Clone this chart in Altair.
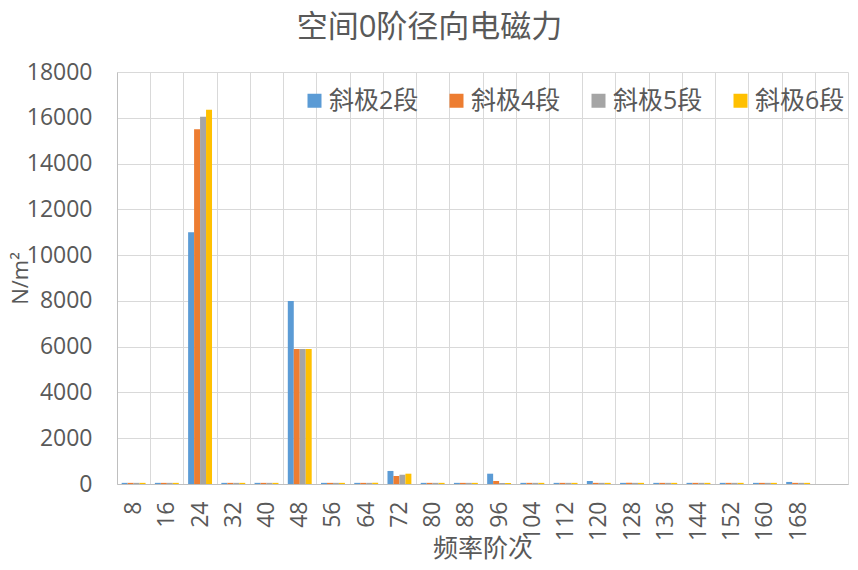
import altair as alt
import pandas as pd

orders = [8, 16, 24, 32, 40, 48, 56, 64, 72, 80, 88, 96, 104, 112, 120, 128, 136, 144, 152, 160, 168]
s2 = [50, 50, 11000, 50, 50, 8000, 50, 50, 570, 50, 50, 450, 50, 50, 130, 50, 50, 50, 50, 50, 90]
s4 = [50, 50, 15500, 50, 50, 5900, 50, 50, 350, 50, 50, 130, 50, 50, 50, 50, 50, 50, 50, 50, 50]
s5 = [50, 50, 16050, 50, 50, 5900, 50, 50, 405, 50, 50, 45, 50, 50, 50, 50, 50, 50, 50, 50, 50]
s6 = [50, 50, 16350, 50, 50, 5900, 50, 50, 450, 50, 50, 45, 50, 50, 50, 50, 50, 50, 50, 50, 50]
series_names = ["斜极2段", "斜极4段", "斜极5段", "斜极6段"]
colors = ["#5B9BD5", "#ED7D31", "#A5A5A5", "#FFC000"]
y_ticks = list(range(0, 18001, 2000))

rows = []
for name, vals in zip(series_names, [s2, s4, s5, s6]):
    for o, v in zip(orders, vals):
        rows.append({"order": str(o), "series": name, "value": v})
df = pd.DataFrame(rows)

x_domain = [str(o) for o in orders] + ["176"]

FONT = "'Open Sans', 'Noto Sans CJK SC', sans-serif"
TXT = "#595959"

chart = alt.Chart(df).mark_bar().encode(
    x=alt.X(
        "order:N",
        scale=alt.Scale(domain=x_domain, paddingInner=0, paddingOuter=0),
        axis=alt.Axis(
            title="频率阶次",
            labelAngle=-90,
            labelExpr="datum.value == '176' ? '' : datum.value",
            tickBand="extent",
            grid=True,
            gridColor="#D9D9D9",
            ticks=False,
            labelPadding=17,
            labelFontSize=23,
            labelColor=TXT,
            labelFont=FONT,
            domainColor="#BFBFBF",
            titleFontSize=25,
            titleFont=FONT,
            titleColor=TXT,
            titleFontWeight="normal",
            titleY=64,
            titleBaseline="middle",
        ),
    ),
    xOffset=alt.XOffset(
        "series:N",
        sort=series_names,
        scale=alt.Scale(paddingOuter=0.78, paddingInner=0),
    ),
    y=alt.Y(
        "value:Q",
        scale=alt.Scale(domain=[0, 18000], nice=False),
        axis=alt.Axis(
            values=y_ticks,
            format="d",
            title="N/m²",
            grid=True,
            gridColor="#D9D9D9",
            ticks=False,
            labelPadding=25,
            labelFontSize=23,
            labelColor=TXT,
            labelFont=FONT,
            domainColor="#BFBFBF",
            titleFontSize=22,
            titleFont=FONT,
            titleColor=TXT,
            titleFontWeight="normal",
            titleX=-97,
            titleY=206,
            titleBaseline="middle",
            titleAlign="center",
        ),
    ),
    color=alt.Color(
        "series:N",
        sort=series_names,
        scale=alt.Scale(domain=series_names, range=colors),
        legend=alt.Legend(
            title=None,
            orient="none",
            legendX=185,
            legendY=16,
            direction="horizontal",
            columns=4,
            symbolType="square",
            symbolSize=196,
            symbolStrokeWidth=0,
            symbolOpacity=1,
            labelFontSize=25,
            labelFont=FONT,
            labelColor=TXT,
            labelOffset=2,
            columnPadding=25,
            padding=0,
        ),
    ),
).properties(
    width=731,
    height=412,
    title=alt.TitleParams(
        text="空间0阶径向电磁力",
        fontSize=31,
        font=FONT,
        color=TXT,
        fontWeight="normal",
        anchor="middle",
        frame="group",
        dx=-53,
        dy=-13,
    ),
    padding={"left": 109, "top": 64, "right": 2, "bottom": 78},
    autosize="none",
).configure_view(stroke=None)

chart.save("out.html", embed_options={"renderer": "svg", "actions": False})
